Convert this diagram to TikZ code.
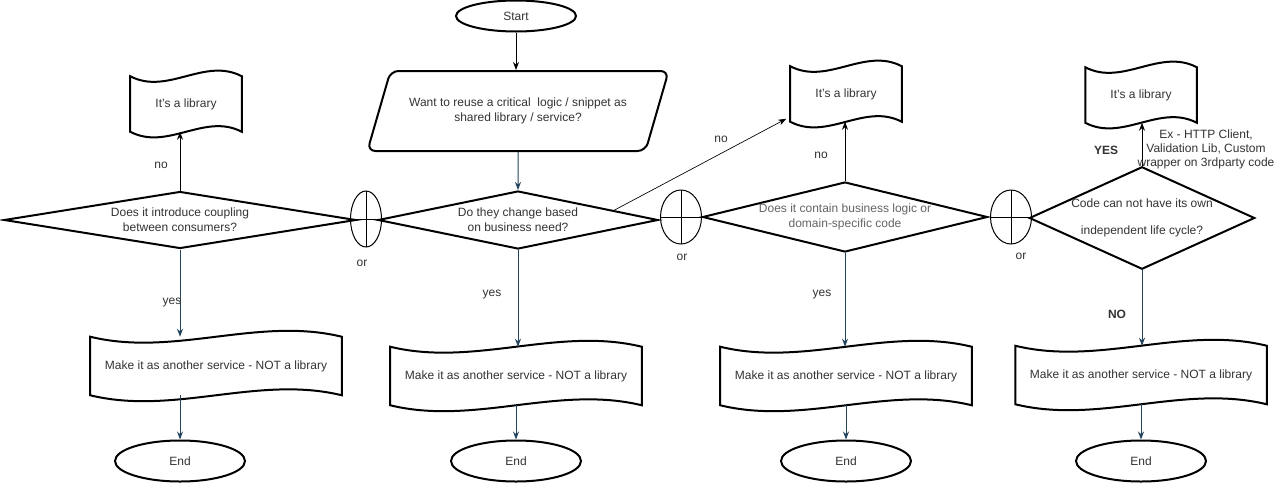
\documentclass[tikz,border=0pt]{standalone}
\usepackage{fontspec}
\setmainfont{Liberation Sans}
\usetikzlibrary{shapes.geometric,arrows.meta,calc}

\definecolor{flowblue}{RGB}{35,68,93}
\definecolor{txtgray}{RGB}{51,51,51}
\definecolor{softgray}{RGB}{100,100,100}

\begin{document}
\begin{tikzpicture}
[
	x=0.75pt, y=-0.75pt,
	every node/.style={font=\fontsize{9}{11.25}\selectfont, text=txtgray},
	shapeline/.style={draw=black, line width=1.5pt},
	decision/.style={diamond, shapeline, inner sep=0pt, align=center},
	terminal/.style={ellipse, shapeline, inner sep=0pt, minimum width=97.5pt, minimum height=30.75pt},
	tapebox/.style={rectangle, inner sep=0pt, align=center},
	orgate/.style={ellipse, draw=black, line width=0.75pt, inner sep=0pt,
		path picture={\draw[line width=0.75pt] (path picture bounding box.north) -- (path picture bounding box.south)
			(path picture bounding box.west) -- (path picture bounding box.east);}},
	lbl/.style={inner sep=1pt},
	flow/.style={-{Stealth[length=6pt,width=4.5pt]}, draw=flowblue, line width=0.75pt},
	blackflow/.style={-{Stealth[length=6pt,width=4.5pt]}, draw=black, line width=0.75pt}
]

	% canvas
	\fill[white] (0,0) rectangle (1280,482);
	\useasboundingbox (0,0) rectangle (1280,482);

	% start and question
	\node[terminal, minimum width=90pt, minimum height=23.25pt] (start) at (516,16) {Start};
	\node[trapezium, trapezium left angle=53, trapezium right angle=127, trapezium stretches=true,
		shapeline, rounded corners=6pt, minimum width=226.5pt, minimum height=60pt, inner sep=0pt, align=center]
		(para) at (518,111) {Want to reuse a critical \ logic / snippet as\\shared library / service?};

	% decisions and or gates
	\node[decision, aspect=6.2, minimum width=264pt, minimum height=42.75pt] (d1) at (180,220) {Does it introduce coupling\\between consumers?};
	\node[orgate, minimum width=23.25pt, minimum height=42pt] (or1) at (366,219) {};
	\node[decision, aspect=4.8, minimum width=210pt, minimum height=43.5pt] (d2) at (518,220) {Do they change based\\on business need?};
	\node[orgate, minimum width=30.75pt, minimum height=40.5pt] (or2) at (681,217) {};
	\node[decision, aspect=4.1, minimum width=213.75pt, minimum height=52.5pt, text=softgray] (d3) at (845,217) {Does it contain business logic or\\domain-specific code};
	\node[orgate, minimum width=30.75pt, minimum height=40.5pt] (or3) at (1011,217) {};
	\node[decision, aspect=2.2, minimum width=165.75pt, minimum height=75pt] (d4) at (1142,218) {Code can not have its own\\[9pt]independent life cycle?};

	% library boxes
	\node[tapebox, minimum width=83.25pt, minimum height=41.25pt] (lib1) at (186,104) {It's a library};
	\node[tapebox, minimum width=83.25pt, minimum height=41.25pt] (lib2) at (846,94) {It's a library};
	\node[tapebox, minimum width=83.25pt, minimum height=41.25pt] (lib3) at (1141,95) {It's a library};

	% service boxes
	\node[tapebox, minimum width=188.25pt, minimum height=43.5pt] (make1) at (216,366) {Make it as another service - NOT a library};
	\node[tapebox, minimum width=188.25pt, minimum height=43.5pt] (make2) at (516,376) {Make it as another service - NOT a library};
	\node[tapebox, minimum width=188.25pt, minimum height=43.5pt] (make3) at (846,376) {Make it as another service - NOT a library};
	\node[tapebox, minimum width=188.25pt, minimum height=43.5pt] (make4) at (1141,375) {Make it as another service - NOT a library};

	% wavy outlines
	\foreach \shp in {lib1,lib2,lib3,make1,make2,make3,make4}
		\draw[shapeline] let \p1=(\shp.north west), \p2=(\shp.south east), \n1={(\x2-\x1)/3}, \n2={(\y1-\y2)*0.35} in
			(\x1,\y1) .. controls +(\n1,-\n2) and +(-\n1,\n2) .. (\x2,\y1) -- (\x2,\y2)
			.. controls +(-\n1,\n2) and +(\n1,-\n2) .. (\x1,\y2) -- cycle;

	% ends
	\node[terminal] (end1) at (180,461) {End};
	\node[terminal] (end2) at (516,461) {End};
	\node[terminal] (end3) at (846,461) {End};
	\node[terminal] (end4) at (1141,461) {End};

	% arrows
	\draw[blackflow] (start.south) -- (start.south |- para.north);
	\draw[flow] (para.south) -- (d2.north);

	\draw[blackflow] (d1.north) -- (d1.north |- lib1.south);
	\draw[flow] (d1.south) -- (d1.south |- make1.north);
	\draw[flow] (make1.south -| end1.north) -- (end1.north);

	\draw[blackflow, line width=0.5pt] ($(d2.north)!0.68!(d2.east)$) -- ($(lib2.south west)+(-4,-3)$);
	\draw[flow] (d2.south) -- (d2.south |- make2.north);
	\draw[flow] (make2.south) -- (end2.north);

	\draw[blackflow] (d3.north) -- (d3.north |- lib2.south);
	\draw[flow] (d3.south) -- (d3.south |- make3.north);
	\draw[flow] (make3.south) -- (end3.north);

	\draw[blackflow] (d4.north) -- (d4.north |- lib3.south);
	\draw[flow] (d4.south) -- (d4.south |- make4.north);
	\draw[flow] (make4.south) -- (end4.north);

	% labels
	\node[lbl] (no1) at (161,165) {no};
	\node[lbl] (yes1) at (172,303) {yes};
	\node[lbl] (or1lbl) at (362,263) {or};
	\node[lbl] (yes2) at (492,295) {yes};
	\node[lbl] (no2) at (721,139) {no};
	\node[lbl] (or2lbl) at (682,257) {or};
	\node[lbl] (no3) at (821,155) {no};
	\node[lbl] (yes3) at (822,295) {yes};
	\node[lbl] (or3lbl) at (1021,256) {or};
	\node[lbl, font=\fontsize{9}{11.25}\selectfont\bfseries] (yes4) at (1106,150) {YES};
	\node[lbl, font=\fontsize{9}{11.25}\selectfont\bfseries] (no4) at (1117,314) {NO};
	\node[lbl, align=center, font=\fontsize{9}{10.5}\selectfont] (example) at (1206,149) {Ex - HTTP Client,\\Validation Lib, Custom\\wrapper on 3rdparty code};

\end{tikzpicture}
\end{document}
